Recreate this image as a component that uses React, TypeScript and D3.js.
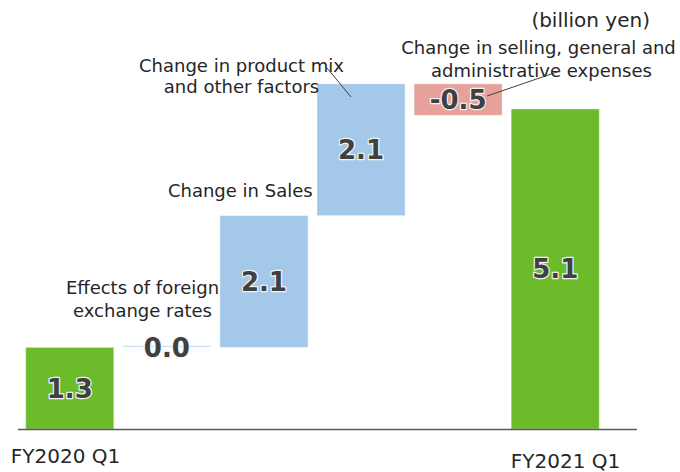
import React from "react";
import * as d3 from "d3";

const categories = ["FY2020 Q1", "fx", "sales", "mix", "sga", "FY2021 Q1"];
const values = [1.3, 0.0, 2.1, 2.1, -0.5, 5.1];
const kinds = ["total", "delta", "delta", "delta", "delta", "total"];
const valueLabels = ["1.3", "0.0", "2.1", "2.1", "-0.5", "5.1"];
const unitLabel = "(billion yen)";

const W = 680;
const H = 472;

export default function App() {
  const x = d3
    .scaleBand<string>()
    .domain(categories)
    .range([21.2, 603.8])
    .paddingInner(0.093)
    .paddingOuter(0.0465);
  const y = d3.scaleLinear().domain([0, 6]).range([429, 52.5]);

  let cum = 0;
  const bars = categories.map((c, i) => {
    let y0: number, y1: number;
    if (kinds[i] === "total") {
      y0 = 0;
      y1 = values[i];
      cum = values[i];
    } else {
      y0 = cum;
      y1 = cum + values[i];
      cum = y1;
    }
    return { c, i, lo: Math.min(y0, y1), hi: Math.max(y0, y1), v: values[i] };
  });

  const fillFor = (b: any) =>
    kinds[b.i] === "total" ? "#6BBB2B" : b.v < 0 ? "#E6A19D" : "#A3C8E9";

  const font = "DejaVu Sans, Verdana, sans-serif";
  const textColor = "#262626";
  const bw = x.bandwidth();

  return (
    <svg
      width={W}
      height={H}
      style={{ position: "absolute", left: 0, top: 0, background: "#fff" }}
      fontFamily={font}
    >
      {bars.map((b) => {
        const bx = x(b.c)!;
        if (b.hi - b.lo < 1e-9) {
          return (
            <line
              key={b.c}
              x1={bx}
              x2={bx + bw}
              y1={y(b.hi) - 1}
              y2={y(b.hi) - 1}
              stroke="#C9DEF2"
              strokeWidth={1.2}
            />
          );
        }
        return (
          <rect
            key={b.c}
            x={bx}
            y={y(b.hi)}
            width={bw}
            height={y(b.lo) - y(b.hi)}
            fill={fillFor(b)}
            stroke="rgba(255,255,255,0.35)"
            strokeWidth={1}
          />
        );
      })}

      <line x1={18} x2={637} y1={429.5} y2={429.5} stroke="#595959" strokeWidth={1.3} />

      {bars.map((b) => {
        const cx = x(b.c)! + bw / 2;
        const cy = (y(b.hi) + y(b.lo)) / 2;
        return (
          <text
            key={"l" + b.c}
            x={cx}
            y={cy}
            dy="0.36em"
            textAnchor="middle"
            fontSize={26}
            fontWeight="bold"
            fill="#404040"
            stroke="#F2F2F2"
            strokeWidth={2.5}
            paintOrder="stroke"
            strokeLinejoin="round"
          >
            {valueLabels[b.i]}
          </text>
        );
      })}

      <text x={65.5} y={463} textAnchor="middle" fontSize={20} fill={textColor}>
        {categories[0]}
      </text>
      <text x={565.5} y={467.5} textAnchor="middle" fontSize={20} fill={textColor}>
        {categories[5]}
      </text>

      <text x={650} y={26.5} textAnchor="end" fontSize={20} fill={textColor}>
        {unitLabel}
      </text>

      <g fontSize={18} fill={textColor} textAnchor="middle">
        <text x={142.5} y={294.3}>Effects of foreign</text>
        <text x={142.5} y={316.5}>exchange rates</text>
        <text x={240.3} y={196.7}>Change in Sales</text>
        <text x={241.5} y={71.5}>Change in product mix</text>
        <text x={241.5} y={93.3}>and other factors</text>
        <text x={538.5} y={54.3}>Change in selling, general and</text>
        <text x={541.5} y={76.5}>administrative expenses</text>
      </g>

      <line x1={327} y1={68} x2={351} y2={97} stroke="#404040" strokeWidth={1} />
      <line x1={487} y1={96} x2={560} y2={71} stroke="#404040" strokeWidth={1} />
    </svg>
  );
}
